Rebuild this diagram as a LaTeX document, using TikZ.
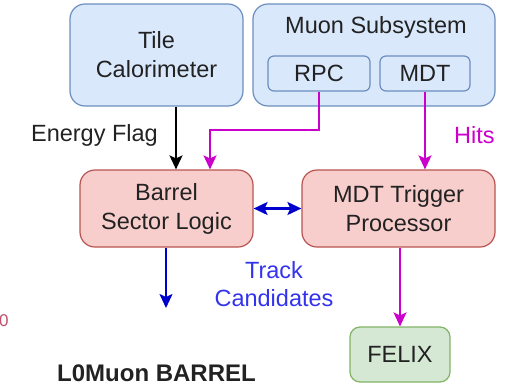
\documentclass[tikz,border=0pt]{standalone}
\usepackage{fontspec}
\setmainfont{Liberation Sans}
\usetikzlibrary{arrows.meta,calc}
\definecolor{blueFill}{HTML}{DAE8FC}
\definecolor{blueLine}{HTML}{6C8EBF}
\definecolor{redFill}{HTML}{F8CECC}
\definecolor{redLine}{HTML}{B85450}
\definecolor{greenFill}{HTML}{D5E8D4}
\definecolor{greenLine}{HTML}{82B366}
\definecolor{hitMag}{HTML}{CC00CC}
\definecolor{trackBlue}{HTML}{0000CC}
\definecolor{labelBlue}{HTML}{3333EE}
\definecolor{txt}{HTML}{222222}
\definecolor{stray}{HTML}{C0506A}
\tikzset{
  box/.style={draw, line width=1.2pt, rounded corners=15pt, inner sep=0pt,
    text=txt, font=\fontsize{23.5}{29}\selectfont, align=center},
  bluebox/.style={box, fill=blueFill, draw=blueLine},
  redbox/.style={box, fill=redFill, draw=redLine},
  greenbox/.style={box, fill=greenFill, draw=greenLine, rounded corners=10pt},
  subbox/.style={box, fill=blueFill, draw=blueLine, rounded corners=6pt},
  conn/.style={line width=1.8pt, -{Stealth[length=14pt,width=13pt,inset=3pt]}},
  lbl/.style={font=\fontsize{23.5}{29}\selectfont, inner sep=0pt}
}
\begin{document}
\begin{tikzpicture}[x=1pt,y=-1pt]
\useasboundingbox (0,0) rectangle (512,389);

% source blocks
\node[bluebox, minimum width=173pt, minimum height=102pt] (tile) at (156.5,55) {Tile\\Calorimeter};
\node[bluebox, minimum width=242pt, minimum height=102pt] (muon) at (374,55) {};
\node[lbl, text=txt] (muonlbl) at (376,27) {Muon Subsystem};
\node[subbox, minimum width=102pt, minimum height=35pt] (rpc) at (319,73.5) {RPC};
\node[subbox, minimum width=90pt, minimum height=35pt] (mdt) at (425,73.5) {MDT};

% trigger logic blocks
\node[redbox, minimum width=173pt, minimum height=77pt] (bsl) at (166.5,208.5) {Barrel\\Sector Logic};
\node[redbox, minimum width=193pt, minimum height=77pt] (mtp) at (398.5,208.5) {MDT Trigger\\Processor};
\node[greenbox, minimum width=100pt, minimum height=55pt] (felix) at (400,354.5) {FELIX};

% helper coordinates
\coordinate (efx) at (176,0);
\coordinate (rpcx) at (210,0);
\coordinate (felx) at (400,0);
\coordinate (bend) at (0,130);
\coordinate (trackend) at (166,308);

% connectors
\draw[conn, black] (efx |- tile.south) -- (efx |- bsl.north);
\draw[conn, hitMag] (rpc.south) -- (rpc.south |- bend) -- (rpcx |- bend) -- (rpcx |- bsl.north);
\draw[conn, hitMag] (mdt.south) -- (mdt.south |- mtp.north);
\draw[line width=2.2pt, trackBlue, {Stealth[length=14pt,width=13pt,inset=3pt]}-{Stealth[length=14pt,width=13pt,inset=3pt]}] (bsl.east) -- (mtp.west);
\draw[conn, trackBlue] (bsl.south -| trackend) -- (trackend);
\draw[conn, hitMag] (felx |- mtp.south) -- (felix.north);

% labels
\node[lbl, text=txt, anchor=east] (eflag) at (158,135) {Energy Flag};
\node[lbl, text=hitMag, anchor=west] (hits) at (454,135) {Hits};
\node[lbl, text=labelBlue, align=center, font=\fontsize{23.5}{28}\selectfont] (track) at (274,284) {Track\\Candidates};
\node[inner sep=0pt, text=txt, anchor=west, font=\fontsize{24}{28}\selectfont\bfseries] (title) at (57,373) {L0Muon BARREL};
\node[inner sep=0pt, text=stray, anchor=west, font=\fontsize{17}{20}\selectfont] (stray0) at (-1,321) {0};
\end{tikzpicture}
\end{document}
